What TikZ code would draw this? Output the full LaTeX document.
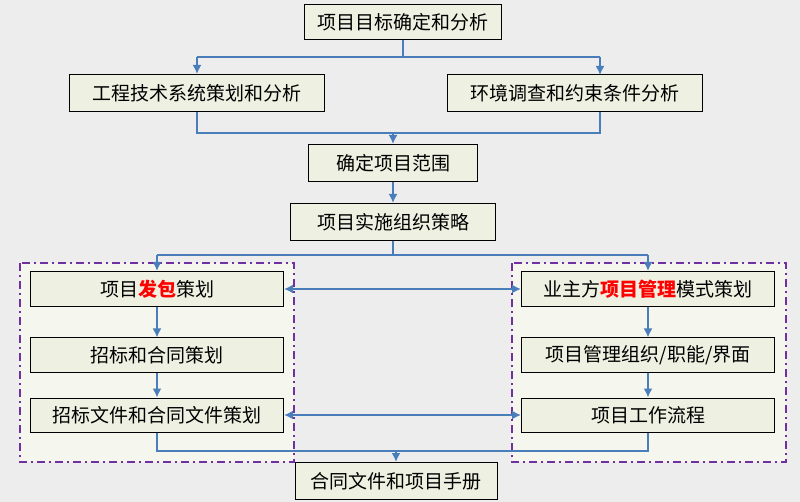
\documentclass[tikz,border=0pt]{standalone}
\usepackage{fontspec}
\newfontfamily\cjk{Noto Sans CJK SC}
\usetikzlibrary{arrows.meta}
\definecolor{flow}{HTML}{4A7EBB}
\definecolor{boxfill}{HTML}{EEF0E1}
\definecolor{bg}{HTML}{EDEDED}
\definecolor{frame}{HTML}{7030A0}
\tikzset{
  stage/.style={draw=black, line width=1pt, fill=boxfill, inner sep=0pt, font=\cjk\fontsize{19}{19}\selectfont},
  link/.style={draw=flow, line width=2.8pt, -{Latex[length=9pt,width=9pt]}},
  joint/.style={draw=flow, line width=2.8pt},
  both/.style={draw=flow, line width=2.8pt, {Latex[length=9pt,width=9pt]}-{Latex[length=9pt,width=9pt]}},
  group/.style={draw=frame, line width=2pt, dash pattern=on 8pt off 4pt on 2pt off 4pt, fill=boxfill!60}
}
\begin{document}
\begin{tikzpicture}[x=1pt, y=-1pt]
\fill[bg] (0,0) rectangle (800,502);
\useasboundingbox (0,0) rectangle (800,502);
% dashed groups
\path[group] (20,263) rectangle (294,462);
\path[group] (512,263) rectangle (786,462);
% boxes
\node[stage, minimum width=197pt, minimum height=35pt] (goal) at (403,22) {项目目标确定和分析};
\node[stage, minimum width=255pt, minimum height=37pt] (tech) at (197,93) {工程技术系统策划和分析};
\node[stage, minimum width=255pt, minimum height=37pt] (env) at (575,93) {环境调查和约束条件分析};
\node[stage, minimum width=169pt, minimum height=37pt] (scope) at (393,163) {确定项目范围};
\node[stage, minimum width=205pt, minimum height=37pt] (org) at (393,222) {项目实施组织策略};
\node[stage, minimum width=253pt, minimum height=35pt] (bid) at (157,289) {项目\textcolor{red}{\textbf{发包}}策划};
\node[stage, minimum width=253pt, minimum height=34pt] (tender) at (157,355) {招标和合同策划};
\node[stage, minimum width=253pt, minimum height=34pt] (docs) at (157,415) {招标文件和合同文件策划};
\node[stage, minimum width=253pt, minimum height=35pt] (mode) at (648,289) {业主方\textcolor{red}{\textbf{项目管理}}模式策划};
\node[stage, minimum width=253pt, minimum height=34pt] (pmo) at (648,355) {项目管理组织/职能/界面};
\node[stage, minimum width=253pt, minimum height=34pt] (work) at (648,415) {项目工作流程};
\node[stage, minimum width=202pt, minimum height=37pt] (manual) at (396,481) {合同文件和项目手册};
% split after goal
\coordinate (s1) at (403,57);
\draw[joint] (goal.south) -- (s1);
\draw[link] (197,57) -- (tech.north);
\draw[link] (600,57) -- (600,75);
\draw[joint] (197,57) -- (600,57);
% merge into scope
\draw[joint] (tech.south) -- (197,133) -- (600,133) -- (600,112);
\draw[link] (scope.north |- 0,133) -- (scope.north);
\draw[link] (scope.south) -- (org.north);
% split after strategy
\draw[joint] (org.south) -- (org.south |- 0,255);
\draw[joint] (157,255) -- (648,255);
\draw[link] (157,255) -- (bid.north);
\draw[link] (648,255) -- (mode.north);
% columns
\draw[link] (bid) -- (tender);
\draw[link] (tender) -- (docs);
\draw[link] (mode) -- (pmo);
\draw[link] (pmo) -- (work);
\draw[both] (bid) -- (mode);
\draw[both] (docs) -- (work);
% merge into manual
\draw[joint] (docs.south) -- (157,451) -- (648,451) -- (work.south);
\draw[link] (manual.north |- 0,451) -- (manual.north);
\end{tikzpicture}
\end{document}
